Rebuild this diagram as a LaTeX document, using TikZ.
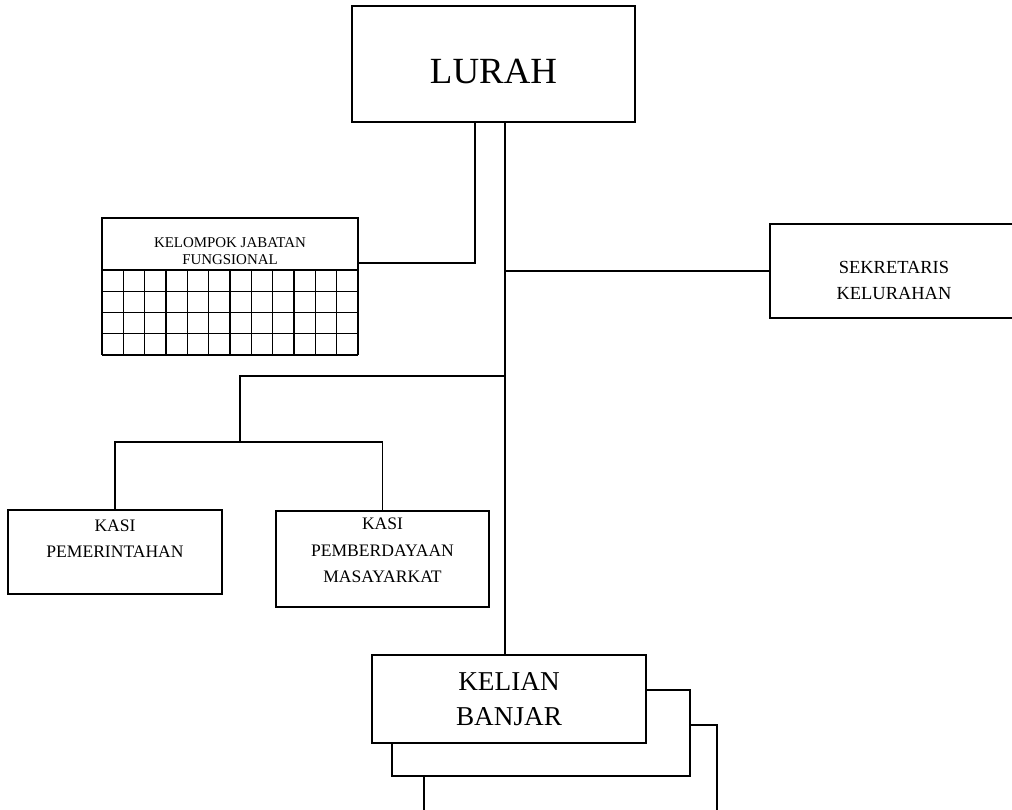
\documentclass[tikz,border=0pt]{standalone}
\usepackage{fontspec}
\setmainfont{Liberation Serif}
\begin{document}
\begin{tikzpicture}[x=0.02cm, y=-0.02cm, line width=0.8pt,
    box/.style={draw, fill=white, align=center, inner sep=0pt},
    small/.style={font=\fontsize{10}{15}\selectfont}]
    \useasboundingbox (0,0) rectangle (1012,809);
    \clip (0,0) rectangle (1012,809);

    \node[box, minimum width=5.66cm, minimum height=2.32cm, text height=22pt, font=\fontsize{21}{25}\selectfont] (lurah) at (493.5,64) {LURAH};

    \node[box, minimum width=5.12cm, minimum height=1.04cm, text height=23pt, font=\fontsize{8.5}{9.5}\selectfont] (kjf) at (230,244) {KELOMPOK JABATAN\\FUNGSIONAL};
    \foreach \c in {0,...,12} \draw ({102+\c*21.33},270) -- ({102+\c*21.33},355);
    \foreach \r in {1,...,4} \draw (102,{270+\r*21.25}) -- (358,{270+\r*21.25});

    \node[box, minimum width=4.96cm, minimum height=1.88cm, text height=33pt, font=\fontsize{10.5}{15}\selectfont] (sekretaris) at (894,271) {SEKRETARIS\\KELURAHAN};

    \node[box, small, minimum width=4.28cm, minimum height=1.68cm] (kasipem) at (115,552) {KASI\\PEMERINTAHAN\\ \mbox{}};
    \node[box, small, minimum width=4.26cm, minimum height=1.92cm] (kasipm) at (382.5,559) {KASI\\PEMBERDAYAAN\\MASAYARKAT\\[-5pt]\mbox{}};

    \node[box, minimum width=5.86cm, minimum height=2.7cm] (kelian3) at (570.5,792.5) {};
    \node[box, minimum width=5.96cm, minimum height=1.72cm] (kelian2) at (541,733) {};
    \node[box, minimum width=5.48cm, minimum height=1.76cm, font=\fontsize{15.5}{20}\selectfont] (kelian) at (509,699) {KELIAN\\BANJAR};

    \coordinate (lnk) at (475,122);
    \coordinate (trunk) at (505,122);
    \coordinate (kjfr) at (358,263);
    \coordinate (kbr) at (240,376);
    \coordinate (kasibus) at (240,442);

    \draw (lnk) |- (kjfr);
    \draw (trunk) -- (trunk |- kelian.north);
    \draw (trunk |- sekretaris.west) -- (sekretaris.west);
    \draw (trunk |- kbr) -- (kbr) -- (kasibus);
    \draw (kasipem.north) |- (kasibus) -| (kasipm.north);

\end{tikzpicture}
\end{document}
